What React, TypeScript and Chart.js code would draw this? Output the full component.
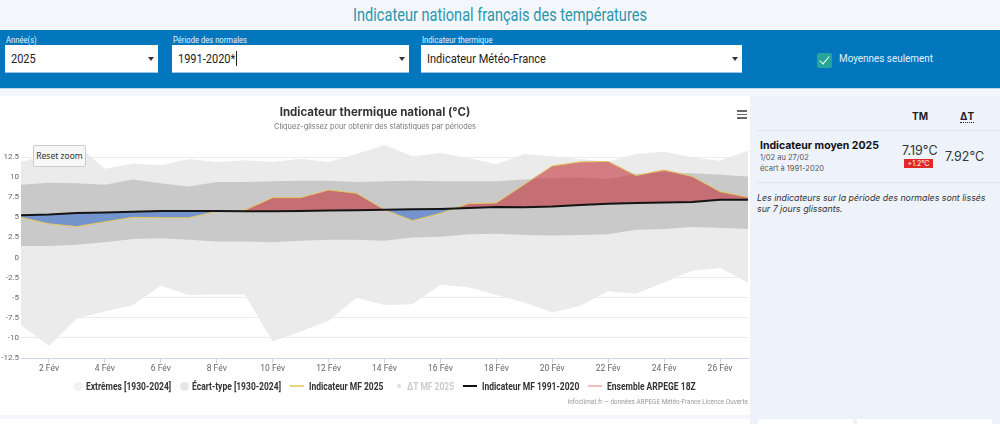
import React, { useEffect, useLayoutEffect, useRef } from "react";
import { Chart, registerables } from "chart.js";

Chart.register(...registerables);

// ---- Data ----
const days = [1, 2, 3, 4, 5, 6, 7, 8, 9, 10, 11, 12, 13, 14, 15, 16, 17, 18, 19, 20, 21, 22, 23, 24, 25, 26, 27];

const extremesHigh = [11.9, 12.9, 14.0, 11.05, 11.7, 11.5, 12.25, 11.9, 12.1, 11.9, 12.3, 11.9, 12.9, 14.0, 12.6, 13.0, 12.4, 11.6, 12.9, 12.6, 12.25, 11.95, 12.9, 13.2, 12.45, 12.05, 13.3];
const extremesLow = [-8.4, -11.0, -7.55, -6.7, -5.9, -3.5, -4.65, -4.6, -4.6, -10.45, -9.2, -7.85, -5.0, -5.9, -5.8, -3.4, -3.7, -4.65, -5.6, -6.85, -6.0, -4.2, -4.5, -3.1, -1.65, -1.3, -3.1];

const stdHigh = [9.05, 9.3, 9.25, 9.05, 9.7, 9.25, 8.85, 9.4, 9.4, 9.5, 9.55, 9.55, 9.4, 9.5, 9.55, 9.5, 9.5, 9.5, 9.7, 9.9, 9.95, 9.8, 10.4, 10.6, 10.5, 10.3, 10.1];
const stdLow = [1.45, 1.45, 1.6, 1.9, 2.3, 2.4, 2.2, 2.0, 2.0, 1.9, 2.1, 2.2, 2.2, 2.1, 2.5, 2.6, 2.9, 2.95, 2.8, 2.75, 2.8, 2.9, 3.45, 3.55, 3.8, 3.7, 3.55];

const normal1991_2020 = [5.25, 5.35, 5.55, 5.6, 5.7, 5.8, 5.8, 5.8, 5.75, 5.75, 5.8, 5.85, 5.9, 5.95, 6.0, 6.05, 6.15, 6.3, 6.25, 6.35, 6.55, 6.7, 6.8, 6.85, 6.9, 7.2, 7.2];
const mf2025 = [5.0, 4.2, 3.85, 4.45, 5.0, 4.95, 4.95, 5.75, 5.9, 7.45, 7.45, 8.4, 8.0, 5.95, 4.6, 5.5, 6.7, 6.8, 9.1, 11.4, 11.9, 11.95, 10.2, 10.9, 10.1, 8.2, 7.5];

const xTickDays = [2, 4, 6, 8, 10, 12, 14, 16, 18, 20, 22, 24, 26];
const yTickValues = [-12.5, -10, -7.5, -5, -2.5, 0, 2.5, 5, 7.5, 10, 12.5];

const legendNames = [
  "Extrêmes [1930-2024]",
  "Écart-type [1930-2024]",
  "Indicateur MF 2025",
  "ΔT MF 2025",
  "Indicateur MF 1991-2020",
  "Ensemble ARPEGE 18Z",
];
const legendKinds = ["circle", "circle", "line", "dot", "line", "line"];
const legendColors = ["#f2f2f2", "#e7e7e7", "#ead67a", "#dddddd", "#111111", "#f5bcbc"];
const legendTextColors = ["#333", "#333", "#333", "#cccccc", "#333", "#333"];

const NARROW = "Roboto,'Liberation Sans',sans-serif";
const SANS = "Inter,'Noto Sans',Roboto,sans-serif";

function Narrow({ k, children, style }: { k: number; children: React.ReactNode; style?: React.CSSProperties }) {
  return (
    <span data-narrow={k} style={{ display: "inline-block", whiteSpace: "nowrap", ...style }}>
      <span style={{ display: "inline-block", whiteSpace: "nowrap", transform: `scaleX(${k})`, transformOrigin: "left center" }}>{children}</span>
    </span>
  );
}

function Select({ left, width, label, value, caret }: { left: number; width: number; label: string; value: string; caret?: boolean }) {
  return (
    <>
      <div style={{ position: "absolute", left: left + 1, top: 35, fontFamily: NARROW, fontSize: 9, color: "#e6f2ff", lineHeight: "11px" }}>
        <Narrow k={0.85}>{label}</Narrow>
      </div>
      <div style={{ position: "absolute", left, top: 45, width, height: 28, background: "#fff", boxSizing: "border-box", borderBottom: "1px solid #9ec3e6" }}>
        <div style={{ position: "absolute", left: 6, top: 0, lineHeight: "28px", fontFamily: NARROW, fontSize: 12.5, color: "#222", whiteSpace: "nowrap" }}>
          <Narrow k={0.88}>{value}</Narrow>
          {caret ? <span style={{ display: "inline-block", width: 1, height: 15, background: "#222", verticalAlign: "-3px", marginLeft: 1 }} /> : null}
        </div>
        <div style={{ position: "absolute", right: 4, top: 12, width: 0, height: 0, borderLeft: "3.5px solid transparent", borderRight: "3.5px solid transparent", borderTop: "4.5px solid #333" }} />
      </div>
    </>
  );
}

function LegendSymbol({ kind, color }: { kind: string; color: string }) {
  if (kind === "line") return <span style={{ display: "inline-block", width: 14, height: 2.5, background: color, marginRight: 5 }} />;
  if (kind === "dot") return <span style={{ display: "inline-block", width: 4, height: 4, borderRadius: 2, background: color, marginRight: 6, marginLeft: 4 }} />;
  return <span style={{ display: "inline-block", width: 9, height: 9, borderRadius: 5, background: color, marginRight: 3 }} />;
}

export default function App() {
  const canvasRef = useRef<HTMLCanvasElement | null>(null);
  const rootRef = useRef<HTMLDivElement | null>(null);

  useLayoutEffect(() => {
    const root = rootRef.current;
    if (!root) return;
    root.querySelectorAll<HTMLElement>("[data-narrow]").forEach((el) => {
      const k = parseFloat(el.dataset.narrow || "1");
      const inner = el.firstElementChild as HTMLElement | null;
      if (inner) el.style.width = `${inner.offsetWidth * k}px`;
    });
  }, []);

  useEffect(() => {
    const canvas = canvasRef.current;
    if (!canvas) return;
    const pts = (arr: number[]) => days.map((d, i) => ({ x: d, y: arr[i] }));

    const chart = new Chart(canvas, {
      type: "line",
      data: {
        datasets: [
          { label: "extLow", data: pts(extremesLow), borderWidth: 0, borderColor: "rgba(0,0,0,0)", pointRadius: 0, fill: false, order: 10 },
          { label: "Extrêmes", data: pts(extremesHigh), borderWidth: 0, borderColor: "rgba(0,0,0,0)", pointRadius: 0, fill: "-1", backgroundColor: "#ebebeb", order: 9 },
          { label: "stdLow", data: pts(stdLow), borderWidth: 0, borderColor: "rgba(0,0,0,0)", pointRadius: 0, fill: false, order: 8 },
          { label: "Écart-type", data: pts(stdHigh), borderWidth: 0, borderColor: "rgba(0,0,0,0)", pointRadius: 0, fill: "-1", backgroundColor: "#c9c9c9", order: 7 },
          { label: "Indicateur MF 1991-2020", data: pts(normal1991_2020), borderColor: "#151515", borderWidth: 2, pointRadius: 0, fill: false, order: 1 },
          {
            label: "Indicateur MF 2025",
            data: pts(mf2025),
            borderColor: "#e3c65a",
            borderWidth: 1,
            pointRadius: 0,
            fill: { target: 4, above: "rgba(195,50,60,0.6)", below: "rgba(55,110,210,0.58)" },
            order: 2,
          },
        ] as any,
      },
      options: {
        animation: false,
        responsive: false,
        maintainAspectRatio: false,
        events: [],
        layout: { padding: { top: 40, left: 0, right: 2, bottom: 37 } },
        elements: { line: { tension: 0 }, point: { radius: 0 } },
        plugins: {
          tooltip: { enabled: false },
          title: { display: false },
          legend: { display: false },
        },
        scales: {
          x: {
            type: "linear",
            min: 1,
            max: 27,
            afterBuildTicks: (s: any) => {
              s.ticks = xTickDays.map((v) => ({ value: v }));
            },
            afterFit: (s: any) => {
              s.height = 20;
            },
            ticks: {
              autoSkip: false,
              maxRotation: 0,
              padding: 1,
              color: "#666",
              font: { family: NARROW, size: 8.5 },
              callback: (v: any) => `${v} Fév`,
            },
            grid: { drawOnChartArea: false, drawTicks: true, tickLength: 5, color: "#ccd6eb" },
            border: { color: "#ccd6eb", width: 1 },
          },
          y: {
            min: -12.5,
            max: 15,
            afterBuildTicks: (s: any) => {
              s.ticks = yTickValues.map((v) => ({ value: v }));
            },
            afterFit: (s: any) => {
              s.width = 21;
            },
            ticks: {
              padding: 2,
              color: "#666",
              font: { family: NARROW, size: 8 },
              callback: (v: any) => String(v),
            },
            grid: { color: "#e8ebf1", drawTicks: false },
            border: { display: false },
          },
        },
      } as any,
    });
    return () => chart.destroy();
  }, []);

  return (
    <div ref={rootRef} style={{ position: "absolute", left: 0, top: 0, width: 1000, height: 424, overflow: "hidden", background: "#f3f6fb" }}>
      {/* page title */}
      <div style={{ position: "absolute", left: 0, top: 0, width: 1000, height: 30, lineHeight: "30px", textAlign: "center", fontFamily: NARROW, fontSize: 18, color: "#2b97ab", transform: "scaleX(0.81)", transformOrigin: "500px 15px" }}>
        Indicateur national français des températures
      </div>

      {/* blue form band */}
      <div style={{ position: "absolute", left: 0, top: 30, width: 1000, height: 58, background: "#0277bd", borderBottom: "1px solid #b9d6ee" }} />
      <Select left={5} width={153} label="Année(s)" value="2025" />
      <Select left={172} width={237} label="Période des normales" value="1991-2020*" caret />
      <Select left={421} width={321} label="Indicateur thermique" value="Indicateur Météo-France" />
      <div style={{ position: "absolute", left: 817, top: 53, width: 15, height: 15, background: "#26a69a", borderRadius: 2 }}>
        <div style={{ position: "absolute", left: 5, top: 1, width: 4, height: 9, borderRight: "1.5px solid #fff", borderBottom: "1.5px solid #fff", transform: "rotate(40deg)" }} />
      </div>
      <div style={{ position: "absolute", left: 839, top: 51, lineHeight: "16px", fontFamily: NARROW, fontSize: 11, color: "#e3f0fb" }}>
        <Narrow k={0.9}>Moyennes seulement</Narrow>
      </div>

      {/* chart card */}
      <div style={{ position: "absolute", left: 0, top: 96, width: 750, height: 319, background: "#fff" }}>
        <canvas ref={canvasRef} width={750} height={318} style={{ position: "absolute", left: 0, top: 1, width: 750, height: 318 }} />
        <div style={{ position: "absolute", left: 0, top: 8, width: 750, textAlign: "center", fontFamily: SANS, fontSize: 11.5, fontWeight: 700, color: "#333", lineHeight: "16px" }}>
          Indicateur thermique national (°C)
        </div>
        <div style={{ position: "absolute", left: 0, top: 25, width: 750, textAlign: "center", fontFamily: SANS, fontSize: 7.4, color: "#777", lineHeight: "11px" }}>
          Cliquez-glissez pour obtenir des statistiques par périodes
        </div>
        {/* menu icon */}
        <div style={{ position: "absolute", left: 737, top: 14, width: 10 }}>
          <div style={{ height: 1.5, background: "#666", marginBottom: 2 }} />
          <div style={{ height: 1.5, background: "#666", marginBottom: 2 }} />
          <div style={{ height: 1.5, background: "#666" }} />
        </div>
        {/* reset zoom button */}
        <div style={{ position: "absolute", left: 33, top: 49, width: 53, height: 22, boxSizing: "border-box", background: "#f7f7f7", border: "1px solid #cccccc", borderRadius: 2, textAlign: "center", lineHeight: "20px", fontFamily: "'Noto Sans',sans-serif", fontSize: 8.5, color: "#333" }}>
          Reset zoom
        </div>
        {/* legend */}
        <div style={{ position: "absolute", left: 21, top: 283, width: 727, height: 14, display: "flex", justifyContent: "center", alignItems: "center", fontFamily: NARROW, fontSize: 10.5, fontWeight: 700 }}>
          {legendNames.map((name, i) => (
            <span key={name} style={{ display: "inline-flex", alignItems: "center", marginRight: i < legendNames.length - 1 ? 9 : 0, color: legendTextColors[i] }}>
              <LegendSymbol kind={legendKinds[i]} color={legendColors[i]} />
              <Narrow k={0.81}>{name}</Narrow>
            </span>
          ))}
        </div>
        <div style={{ position: "absolute", right: 2, top: 301, fontFamily: NARROW, fontSize: 7.5, color: "#999", lineHeight: "10px", transform: "scaleX(0.85)", transformOrigin: "right center", whiteSpace: "nowrap" }}>
          infoclimat.fr — données ARPEGE Météo-France Licence Ouverte
        </div>
      </div>

      {/* right panel */}
      <div style={{ position: "absolute", left: 750, top: 96, width: 250, height: 328, background: "#eef3fb" }}>
        <div style={{ position: "absolute", left: 162, top: 14, fontFamily: SANS, fontSize: 10, fontWeight: 700, color: "#222" }}>TM</div>
        <div style={{ position: "absolute", left: 210, top: 14, fontFamily: SANS, fontSize: 10, fontWeight: 700, color: "#222", borderBottom: "1px dotted #222", lineHeight: "12px" }}>ΔT</div>
        <div style={{ position: "absolute", left: 7, top: 34, width: 243, height: 1, background: "#dfe5ee" }} />
        <div style={{ position: "absolute", left: 10, top: 43, fontFamily: SANS, fontSize: 10.5, fontWeight: 700, color: "#111", lineHeight: "14px" }}>Indicateur moyen 2025</div>
        <div style={{ position: "absolute", left: 10, top: 57, fontFamily: SANS, fontSize: 7.5, color: "#555", lineHeight: "10px" }}>1/02 au 27/02</div>
        <div style={{ position: "absolute", left: 10, top: 68, fontFamily: SANS, fontSize: 7.5, color: "#555", lineHeight: "10px" }}>écart à 1991-2020</div>
        <div style={{ position: "absolute", left: 152, top: 47, fontFamily: SANS, fontSize: 12.5, color: "#333", lineHeight: "16px" }}>7.19°C</div>
        <div style={{ position: "absolute", left: 154, top: 63, width: 29, height: 9, background: "#e02a2a", color: "#fff", fontFamily: SANS, fontSize: 7, lineHeight: "9px", textAlign: "center" }}>+1.2°C</div>
        <div style={{ position: "absolute", left: 195, top: 53, fontFamily: SANS, fontSize: 12.5, color: "#333", lineHeight: "16px" }}>7.92°C</div>
        <div style={{ position: "absolute", left: 7, top: 86, width: 243, height: 1, background: "#dfe5ee" }} />
        <div style={{ position: "absolute", left: 7, top: 96, whiteSpace: "nowrap", fontFamily: SANS, fontSize: 8.8, fontStyle: "italic", color: "#333", lineHeight: "11px" }}>
          Les indicateurs sur la période des normales sont lissés
          <br />
          sur 7 jours glissants.
        </div>
      </div>

      {/* bottom cards */}
      <div style={{ position: "absolute", left: 0, top: 419, width: 750, height: 10, background: "#fff" }} />
      <div style={{ position: "absolute", left: 758, top: 419, width: 95, height: 10, background: "#fff" }} />
      <div style={{ position: "absolute", left: 857, top: 419, width: 135, height: 10, background: "#fff" }} />
    </div>
  );
}
